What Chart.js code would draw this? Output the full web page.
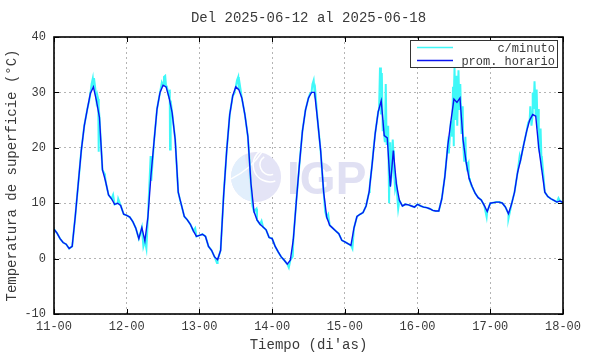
<!DOCTYPE html>
<html lang="es">
<head>
    <meta charset="UTF-8">
    <title>Temperatura de superficie</title>
    <script src="https://cdn.jsdelivr.net/npm/chart.js"></script>
    <style>
        body {
            margin: 0;
            background: #ffffff;
        }
        #wrap {
            width: 590px;
            height: 354px;
        }
    </style>
</head>
<body>
<div id="wrap">
    <canvas id="tempChart"></canvas>
</div>

<script>
    // etiquetas del eje x (un tick por dia)
    const dayLabels = ['11-00', '12-00', '13-00', '14-00', '15-00', '16-00', '17-00', '18-00'];

    // promedio horario, 24 valores por dia
    const day1 = [5.3, 4.6, 3.6, 2.9, 2.6, 1.8, 2.2, 7.5, 13.5, 19.5, 24, 27, 29.8, 31, 28.5, 25.5, 16, 14, 11.5, 10.8, 9.8, 10, 9.6, 8];
    const day2 = [7.8, 7.5, 6.7, 5.5, 3.6, 5.6, 3.2, 7.5, 15, 21, 27, 30, 31.3, 31, 29, 26.3, 21.5, 12, 9.8, 7.6, 7, 6.2, 5, 4];
    const day3 = [4.2, 4.4, 4, 2.2, 1.5, 0.3, -0.2, 1.5, 11.5, 19.5, 26, 29.4, 31, 30.5, 29, 26, 22, 13.6, 8.5, 7, 6.2, 5.7, 5.2, 3.8];
    const day4 = [3.6, 2.2, 1.2, 0.3, -0.3, -1, -0.3, 3.5, 10.5, 17, 23, 26.8, 29, 30, 30, 25, 19.5, 12, 7.5, 6, 5.5, 5, 4.5, 3.3];
    const day5 = [3, 2.7, 2.4, 5.5, 7.6, 8, 8.3, 9.5, 12, 17, 22.5, 26.5, 28.5, 22.2, 21.8, 13, 19.5, 13.5, 10.5, 9.5, 9.8, 9.7, 9.5, 9.3];
    const day6 = [9.8, 9.5, 9.3, 9.2, 9, 8.7, 8.6, 8.6, 10.8, 14.8, 20.5, 24.8, 28.8, 28.2, 29, 21.5, 17.5, 14.5, 13, 11.8, 11, 10.6, 9.6, 8.5];
    const day7 = [10, 10.1, 10.2, 10.2, 10, 9.3, 8.1, 9.8, 12, 15.5, 17.8, 20.5, 23, 25, 26, 25.7, 20, 16, 12, 11.2, 10.8, 10.5, 10.2, 10.4];
    const lastValue = [10.1];

    // picos de la serie por minuto que se salen del promedio [hora, valor]
    const minuteSpikes = [
        [11.6, 28.5], [12.4, 31.5], [12.8, 32.5], [13.2, 32.6], [13.6, 30.8], [14.3, 29.5], [14.6, 28.8], [14.7, 19.3], [14.8, 27.5], [16.8, 15.2], [19.5, 11.5], [21.2, 10.8],
        [29.5, 2.2], [30.5, 1.8], [31.9, 18.5], [32.1, 14], [35.6, 31.8], [36.3, 32.8], [36.7, 33], [37.2, 31.2], [38.2, 30.5], [38.3, 19.7], [38.5, 28.5], [41.5, 10.8], [46.6, 5.5],
        [53.8, -0.8], [59.5, 29.8], [60.4, 32.2], [60.8, 32.8], [61.3, 31.5], [65.5, 9.5], [66.8, 9], [68.5, 6.8],
        [77.5, -1.6], [78.8, 0.4], [84.5, 29.8], [85.3, 31.5], [85.7, 32.2], [86.2, 30.5], [89.5, 8.5], [90.5, 8],
        [98.5, 1.8], [104.2, 13], [105.5, 20], [107.3, 27], [107.6, 34.5], [107.9, 26], [108.2, 33.5], [108.5, 23], [108.8, 25], [109.2, 21], [109.5, 31.5], [109.8, 20.5],
        [110.3, 24], [110.6, 10], [110.9, 21], [111.4, 15], [111.8, 21.5], [112.2, 16], [112.6, 12.5], [113.6, 9],
        [130.3, 19], [131.4, 22], [131.7, 31], [131.9, 20.3], [132.2, 34.5], [132.5, 25], [132.8, 33], [133.1, 24], [133.5, 34], [133.8, 27], [134.1, 31.5], [134.5, 22.5],
        [134.9, 27.5], [135.4, 17.5], [135.8, 22], [136.3, 16.5], [136.8, 17.2], [137.3, 14], [142.8, 7.5],
        [150, 7.2], [153.7, 18.5], [156.5, 24.5], [157.2, 27.5], [157.6, 24], [158, 30], [158.3, 27], [158.6, 32], [158.9, 27.5], [159.3, 30.5], [159.6, 23.5],
        [159.9, 27], [160.2, 19.5], [160.6, 23.5], [161, 18.5], [166.5, 10.9]
    ];

    const hourly = [].concat(day1, day2, day3, day4, day5, day6, day7, lastValue);
    const hourlyPoints = hourly.map((v, i) => ({ x: i, y: v }));
    const minutePoints = hourlyPoints
        .concat(minuteSpikes.map(p => ({ x: p[0], y: p[1] })))
        .sort((a, b) => a.x - b.x);

    const monoFont = "'Liberation Mono', 'DejaVu Sans Mono', monospace";
    const textColor = '#3a3a3a';

    // marco, ticks hacia adentro y leyenda al estilo gnuplot
    const framePlugin = {
        id: 'frame',
        beforeDatasetsDraw(chart) {
            const c = chart.ctx;
            const a = chart.chartArea;
            // marca de agua IGP
            c.save();
            const cx = a.left + (a.right - a.left) * 0.397;
            const cy = a.top + (a.bottom - a.top) * 0.505;
            c.beginPath();
            c.arc(cx, cy, 25, 0, Math.PI * 2);
            c.fillStyle = '#e4e4f6';
            c.fill();
            c.beginPath();
            c.arc(cx, cy, 25, Math.PI * 0.55, Math.PI * 1.35);
            c.closePath();
            c.fillStyle = '#e2effc';
            c.fill();
            c.strokeStyle = '#ffffff';
            c.lineWidth = 1.5;
            for (const r of [10, 17]) {
                c.beginPath();
                c.arc(cx + 14, cy - 12, r, Math.PI * 0.4, Math.PI * 1.3);
                c.stroke();
            }
            c.beginPath();
            c.moveTo(cx - 25, cy + 2);
            c.quadraticCurveTo(cx - 5, cy - 8, cx + 6, cy - 25);
            c.stroke();
            c.font = "bold 46px 'Liberation Sans', 'DejaVu Sans', sans-serif";
            c.fillStyle = '#e0e0f3';
            c.textBaseline = 'alphabetic';
            c.fillText('IGP', cx + 31, cy + 17);
            c.restore();
        },
        afterDraw(chart) {
            const c = chart.ctx;
            const a = chart.chartArea;
            const xs = chart.scales.x;
            const ys = chart.scales.y;
            c.save();
            c.strokeStyle = '#000000';
            c.lineWidth = 1;
            c.beginPath();
            xs.ticks.forEach(t => {
                const px = Math.round(xs.getPixelForValue(t.value)) + 0.5;
                c.moveTo(px, a.bottom); c.lineTo(px, a.bottom - 5);
                c.moveTo(px, a.top); c.lineTo(px, a.top + 5);
            });
            ys.ticks.forEach(t => {
                const py = Math.round(ys.getPixelForValue(t.value)) + 0.5;
                c.moveTo(a.left, py); c.lineTo(a.left + 5, py);
                c.moveTo(a.right, py); c.lineTo(a.right - 5, py);
            });
            c.stroke();
            c.lineWidth = 1.6;
            c.strokeRect(a.left, a.top, a.right - a.left, a.bottom - a.top);

            // leyenda
            const bx = a.right - 153, by = a.top + 3, bw = 147, bh = 27;
            c.fillStyle = '#ffffff';
            c.fillRect(bx, by, bw, bh);
            c.lineWidth = 1;
            c.strokeStyle = '#333333';
            c.strokeRect(bx + 0.5, by + 0.5, bw, bh);
            c.font = '12px ' + monoFont;
            c.textAlign = 'right';
            c.textBaseline = 'middle';
            chart.data.datasets.forEach((ds, i) => {
                const ly = by + 7.5 + i * 13;
                c.strokeStyle = ds.borderColor;
                c.lineWidth = 1.3;
                c.beginPath();
                c.moveTo(bx + 7, ly);
                c.lineTo(bx + 43, ly);
                c.stroke();
                c.fillStyle = textColor;
                c.fillText(ds.label, bx + bw - 2, ly + 1);
            });
            c.restore();
        }
    };

    const ctx = document.getElementById('tempChart').getContext('2d');
    const chart = new Chart(ctx, {
        type: 'line',
        data: {
            datasets: [
                {
                    label: 'c/minuto',
                    data: minutePoints,
                    borderColor: '#40f8f8',
                    borderWidth: 2,
                    pointRadius: 0,
                    tension: 0,
                    order: 2
                },
                {
                    label: 'prom. horario',
                    data: hourlyPoints,
                    borderColor: '#0a14f0',
                    borderWidth: 1.4,
                    pointRadius: 0,
                    tension: 0,
                    order: 1
                }
            ]
        },
        options: {
            responsive: true,
            maintainAspectRatio: false,
            animation: false,
            layout: {
                padding: { left: 0, right: 27, top: 0, bottom: 0 }
            },
            plugins: {
                legend: { display: false },
                tooltip: { enabled: false },
                title: {
                    display: true,
                    fullSize: false,
                    text: 'Del 2025-06-12 al 2025-06-18',
                    color: textColor,
                    font: { family: monoFont, size: 14, weight: 'normal' },
                    padding: { top: 10, bottom: 10.2 }
                }
            },
            scales: {
                x: {
                    type: 'linear',
                    min: 0,
                    max: 168,
                    afterFit: s => { s.height = 40; },
                    ticks: {
                        stepSize: 24,
                        color: textColor,
                        font: { family: monoFont, size: 12 },
                        padding: 6,
                        maxRotation: 0,
                        callback: v => dayLabels[v / 24]
                    },
                    grid: { color: '#b4b4b4', drawTicks: false, lineWidth: 1 },
                    border: { display: false, dash: [2, 3] },
                    title: {
                        display: true,
                        text: "Tiempo (di'as)",
                        color: textColor,
                        font: { family: monoFont, size: 14 },
                        padding: { top: 0, bottom: 0 }
                    }
                },
                y: {
                    min: -10,
                    max: 40,
                    afterFit: s => { s.width = 54; },
                    ticks: {
                        stepSize: 10,
                        color: textColor,
                        font: { family: monoFont, size: 12 },
                        padding: 8
                    },
                    grid: { color: '#b4b4b4', drawTicks: false, lineWidth: 1 },
                    border: { display: false, dash: [2, 3] },
                    title: {
                        display: true,
                        text: 'Temperatura de superficie (°C)',
                        color: textColor,
                        font: { family: monoFont, size: 14 },
                        padding: { top: 4, bottom: 0 }
                    }
                }
            }
        },
        plugins: [framePlugin]
    });
</script>
</body>
</html>
